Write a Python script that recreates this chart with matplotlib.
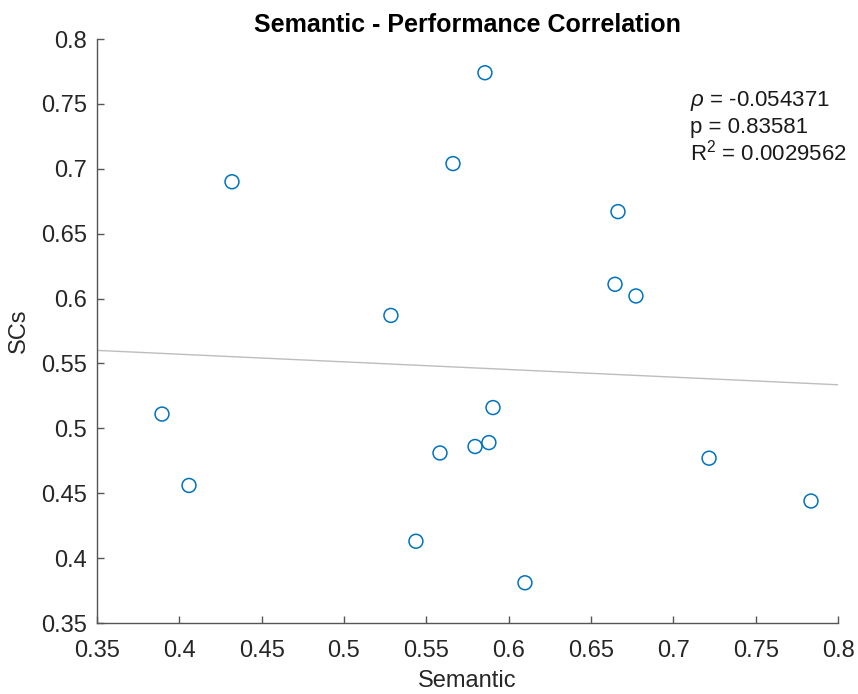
import numpy as np
import matplotlib
matplotlib.use('Agg')
import matplotlib.pyplot as plt

# values
semantic = [0.3895, 0.4059, 0.432, 0.5285, 0.5437, 0.5583, 0.5662, 0.5796, 0.5856,
            0.588, 0.5905, 0.6099, 0.6646, 0.6664, 0.6773, 0.7217, 0.7836]
scs = [0.511, 0.456, 0.690, 0.587, 0.413, 0.481, 0.704, 0.486, 0.774,
       0.489, 0.516, 0.381, 0.611, 0.667, 0.602, 0.477, 0.444]
stats_lines = [r'$\rho$ = -0.054371', 'p = 0.83581', r'R$^2$ = 0.0029562']
tick_labels = ['0.35', '0.4', '0.45', '0.5', '0.55', '0.6', '0.65', '0.7', '0.75', '0.8']

plt.rcParams['font.family'] = ['Liberation Sans', 'DejaVu Sans']
plt.rcParams['mathtext.fontset'] = 'custom'
plt.rcParams['mathtext.rm'] = 'Liberation Sans'
plt.rcParams['mathtext.it'] = 'Liberation Sans:italic'

fig = plt.figure(figsize=(8.58, 6.94), dpi=100)
ax = fig.add_axes([0.113, 0.1023, 0.8637, 0.8415])

ax.scatter(semantic, scs, s=100, facecolors='none', edgecolors='#0072BD', linewidths=1.1, zorder=3)

# least squares fit across the full x range
slope, icpt = np.polyfit(semantic, scs, 1)
xl = np.array([0.35, 0.8])
ax.plot(xl, slope * xl + icpt, color='#bdbdbd', lw=1.0, zorder=2)

ax.set_xlim(0.35, 0.8)
ax.set_ylim(0.35, 0.8)
ax.set_xticks(np.arange(0.35, 0.8001, 0.05))
ax.set_yticks(np.arange(0.35, 0.8001, 0.05))
ax.set_xticklabels(tick_labels)
ax.set_yticklabels(tick_labels)

for side in ['top', 'right']:
    ax.spines[side].set_visible(False)
for side in ['left', 'bottom']:
    ax.spines[side].set_color('#555555')
    ax.spines[side].set_linewidth(1.0)
ax.tick_params(direction='in', length=5, width=1.0, color='#555555',
               labelsize=17, labelcolor='#262626')
ax.tick_params(axis='x', pad=12)
ax.tick_params(axis='y', pad=7)

ax.set_xlabel('Semantic', fontsize=17, color='#262626', labelpad=6)
ax.set_ylabel('SCs', fontsize=17, color='#262626', labelpad=8)
ax.set_title('Semantic - Performance Correlation', fontsize=18, fontweight='bold', pad=5)

for i, line in enumerate(stats_lines):
    ax.text(0.8, 0.893 - i * 0.044, line, transform=ax.transAxes, fontsize=16,
            color='#1a1a1a', va='center', ha='left')

fig.savefig('out.png', dpi=100)
